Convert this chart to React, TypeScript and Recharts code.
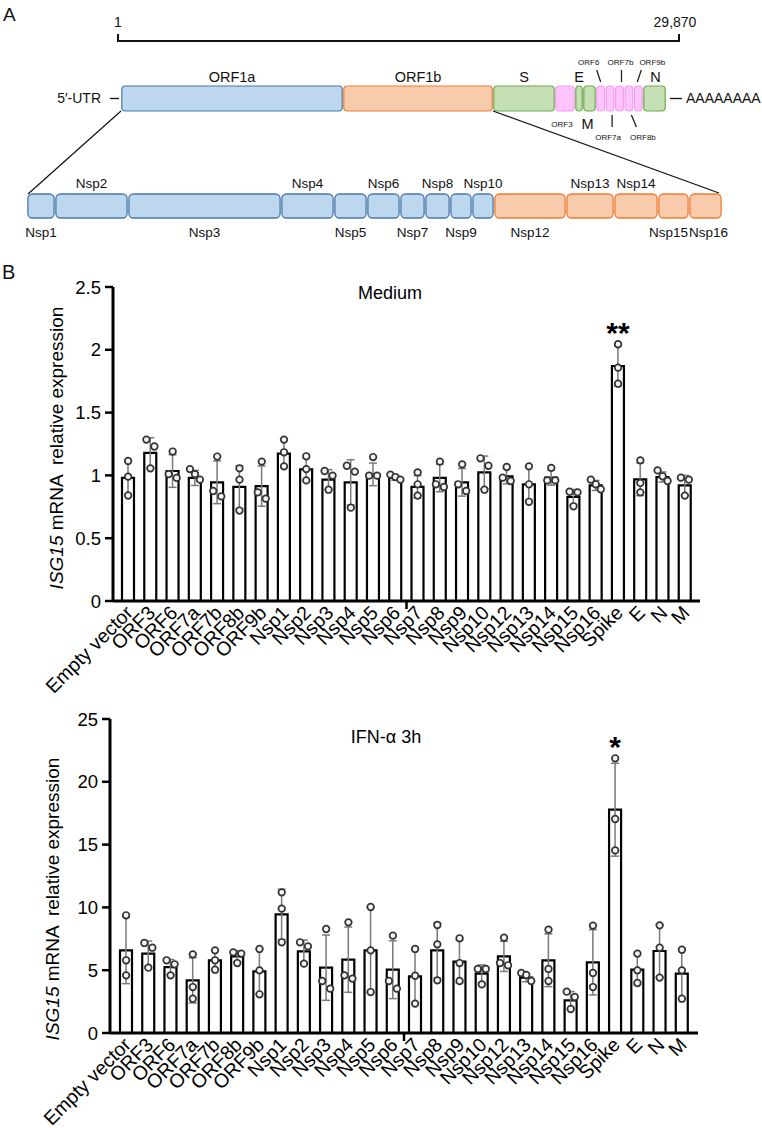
import React from "react";
import { BarChart, Bar, ComposedChart, XAxis, YAxis, Scatter, ErrorBar, LabelList } from "recharts";

const FONT = "'Liberation Sans', Arial, Helvetica, sans-serif";

// ---- panel A: genome map (segment widths as drawn, not in nt) ----
const genomeNames = ["ORF1a", "ORF1b", "S", "ORF3", "E", "M", "ORF6", "ORF7a", "ORF7b", "ORF8b", "ORF9b", "N"];
const genomeSizes = [222, 150, 62, 20, 8, 13, 9.4, 9.4, 9.4, 9.4, 9.4, 23];
const genomeKinds = ["pp1a", "pp1b", "structural", "accessory", "structural", "structural", "accessory", "accessory", "accessory", "accessory", "accessory", "structural"];

const nspNames = ["Nsp1", "Nsp2", "Nsp3", "Nsp4", "Nsp5", "Nsp6", "Nsp7", "Nsp8", "Nsp9", "Nsp10", "Nsp12", "Nsp13", "Nsp14", "Nsp15", "Nsp16"];
const nspSizes = [28, 73, 153, 53, 33, 33, 25, 25, 22, 22, 72, 48, 44, 31, 33];
const nspKinds = ["pp1a", "pp1a", "pp1a", "pp1a", "pp1a", "pp1a", "pp1a", "pp1a", "pp1a", "pp1a", "pp1b", "pp1b", "pp1b", "pp1b", "pp1b"];
const nspTopLabels = ["Nsp2", "Nsp4", "Nsp6", "Nsp8", "Nsp10", "Nsp13", "Nsp14"];

// ---- panel B: ISG15 qPCR ----
const categories = ["Empty vector", "ORF3", "ORF6", "ORF7a", "ORF7b", "ORF8b", "ORF9b", "Nsp1", "Nsp2", "Nsp3", "Nsp4", "Nsp5", "Nsp6", "Nsp7", "Nsp8", "Nsp9", "Nsp10", "Nsp12", "Nsp13", "Nsp14", "Nsp15", "Nsp16", "Spike", "E", "N", "M"];

const mediumMean = [0.98, 1.18, 1.035, 0.98, 0.945, 0.908, 0.915, 1.173, 1.048, 0.966, 0.945, 1.008, 0.982, 0.908, 0.98, 0.945, 1.024, 0.993, 0.929, 0.982, 0.828, 0.92, 1.871, 0.969, 0.987, 0.92];
const mediumSd = [0.14, 0.12, 0.13, 0.06, 0.17, 0.17, 0.16, 0.11, 0.09, 0.08, 0.18, 0.09, 0.02, 0.09, 0.11, 0.11, 0.13, 0.06, 0.14, 0.06, 0.06, 0.04, 0.16, 0.13, 0.04, 0.08];
const mediumRep1 = [1.115, 1.285, 1.19, 1.05, 1.15, 1.056, 1.11, 1.285, 1.152, 1.035, 1.077, 1.146, 1.006, 1.024, 1.11, 1.088, 1.136, 1.067, 1.072, 1.06, 0.87, 0.966, 2.044, 1.12, 1.04, 0.982];
const mediumRep2 = [0.99, 1.23, 1.01, 1.01, 0.876, 0.966, 0.865, 1.184, 1.05, 0.998, 1.03, 0.998, 0.987, 0.929, 0.929, 0.929, 1.077, 0.982, 0.929, 0.96, 0.865, 0.929, 1.858, 0.94, 0.993, 0.966];
const mediumRep3 = [0.84, 1.056, 0.98, 0.966, 0.833, 0.72, 0.815, 1.072, 0.96, 0.886, 0.743, 0.998, 0.966, 0.839, 0.908, 0.876, 0.886, 0.955, 0.79, 0.96, 0.754, 0.89, 1.73, 0.865, 0.955, 0.839];
const mediumSig = ["", "", "", "", "", "", "", "", "", "", "", "", "", "", "", "", "", "", "", "", "", "", "**", "", "", ""];
const mediumTicks = [0, 0.5, 1, 1.5, 2, 2.5];

const ifnMean = [6.58, 6.32, 5.25, 4.19, 5.79, 6.1, 4.91, 9.45, 6.5, 5.2, 5.84, 6.58, 5.04, 4.51, 6.58, 5.68, 4.72, 6.1, 4.41, 5.79, 2.6, 5.63, 17.78, 5.04, 6.53, 4.72];
const ifnSd = [2.65, 1.0, 0.6, 1.8, 0.77, 0.45, 1.8, 2.0, 0.9, 2.6, 2.6, 3.4, 2.3, 2.2, 2.2, 1.7, 0.7, 1.2, 0.33, 2.1, 0.7, 2.6, 3.7, 1.2, 2.1, 2.0];
const ifnRep1 = [9.37, 7.17, 5.79, 6.26, 6.58, 6.42, 6.69, 11.2, 7.22, 8.28, 8.81, 10.03, 7.75, 6.69, 8.6, 7.54, 5.1, 7.59, 4.78, 8.23, 3.29, 8.55, 21.87, 6.32, 8.57, 6.63];
const ifnRep2 = [5.79, 6.79, 5.47, 3.66, 5.79, 6.32, 4.99, 9.9, 6.9, 4.14, 4.59, 6.58, 4.14, 4.56, 7.06, 5.57, 5.1, 5.57, 4.62, 5.1, 2.87, 4.78, 17.04, 4.99, 6.79, 4.99];
const ifnRep3 = [4.59, 5.2, 4.59, 2.73, 5.04, 5.57, 3.08, 7.22, 5.52, 3.53, 4.33, 3.26, 3.53, 2.34, 4.19, 4.14, 3.87, 5.39, 4.14, 4.14, 1.91, 3.66, 14.54, 3.98, 4.41, 2.73];
const ifnSig = ["", "", "", "", "", "", "", "", "", "", "", "", "", "", "", "", "", "", "", "", "", "", "*", "", "", ""];
const ifnTicks = [0, 5, 10, 15, 20, 25];

const palette: Record<string, { fill: string; stroke: string }> = {
  pp1a: { fill: "#bdd7ee", stroke: "#4a78aa" },
  pp1b: { fill: "#f8cbad", stroke: "#ed7d31" },
  structural: { fill: "#c5e0b4", stroke: "#6fa84a" },
  accessory: { fill: "#ffc4fb", stroke: "#f49cf0" },
};

type LabelStyle = { side: "top" | "bottom"; size: number; dx?: number; pointer?: [number, number] };

const genomeLabelStyle: Record<string, LabelStyle> = {
  ORF1a: { side: "top", size: 14.5 },
  ORF1b: { side: "top", size: 14.5 },
  S: { side: "top", size: 14.5 },
  E: { side: "top", size: 14.5 },
  N: { side: "top", size: 14.5, dx: 1 },
  ORF3: { side: "bottom", size: 8, dx: -3 },
  M: { side: "bottom", size: 14.5, dx: -2 },
  ORF6: { side: "top", size: 8, dx: -12, pointer: [-4, 0] },
  ORF7b: { side: "top", size: 8, dx: 1, pointer: [2, 2] },
  ORF9b: { side: "top", size: 8, dx: 14, pointer: [3, -1] },
  ORF7a: { side: "bottom", size: 8, dx: -2, pointer: [2, 2] },
  ORF8b: { side: "bottom", size: 8, dx: 14, pointer: [2.5, 7.5] },
};

const nspLabelDx: Record<string, number> = { Nsp15: -5, Nsp16: 3 };

const GENOME = { left: 121, top: 86, h: 25 };
const NSP = { left: 27, top: 194, h: 24 };

function genomeShape(name: string, kind: string) {
  return (p: any) => {
    const { x, y, width, height } = p;
    const c = palette[kind];
    const st = genomeLabelStyle[name];
    const cx = x + width / 2 + (st.dx ?? 0);
    const bcx = x + width / 2;
    let label: React.ReactNode = null;
    if (st.side === "top") {
      const by = st.size < 10 ? y - 21.5 : y - 4;
      label = (
        <g>
          {st.pointer && <line x1={bcx + st.pointer[0]} y1={y - 16} x2={bcx + st.pointer[1]} y2={y - 4} stroke="#222" strokeWidth={1.3} />}
          <text x={cx} y={by} textAnchor="middle" fontSize={st.size} fontFamily={FONT} fill="#111">{name}</text>
        </g>
      );
    } else {
      const by = st.pointer ? y + height + 28.5 : st.size < 10 ? y + height + 15.5 : y + height + 18;
      label = (
        <g>
          {st.pointer && <line x1={bcx + st.pointer[0]} y1={y + height + 4} x2={bcx + st.pointer[1]} y2={y + height + 16} stroke="#222" strokeWidth={1.3} />}
          <text x={cx} y={by} textAnchor="middle" fontSize={st.size} fontFamily={FONT} fill="#111">{name}</text>
        </g>
      );
    }
    return (
      <g>
        <rect x={x + 0.8} y={y} width={Math.max(width - 1.6, 0)} height={height} rx={3.5} fill={c.fill} stroke={c.stroke} strokeWidth={1.2} />
        {label}
      </g>
    );
  };
}

function nspShape(name: string, kind: string) {
  return (p: any) => {
    const { x, y, width, height } = p;
    const c = palette[kind];
    const top = nspTopLabels.includes(name);
    return (
      <g>
        <rect x={x + 0.9} y={y} width={Math.max(width - 1.8, 0)} height={height} rx={4.5} fill={c.fill} stroke={c.stroke} strokeWidth={1.3} />
        <text x={x + width / 2 + (nspLabelDx[name] ?? 0)} y={top ? y - 6 : y + height + 19} textAnchor="middle" fontSize={13.5} fontFamily={FONT} fill="#111">{name}</text>
      </g>
    );
  };
}

function SegmentRow({ names, sizes, kinds, left, top, h, shape }: any) {
  const row: Record<string, any> = { row: "r" };
  names.forEach((n: string, i: number) => (row[`s${i}`] = sizes[i]));
  const total = sizes.reduce((a: number, b: number) => a + b, 0);
  const mTop = 50;
  const mBottom = 45;
  return (
    <div style={{ position: "absolute", left: 0, top: top - mTop }}>
      <BarChart width={762} height={h + mTop + mBottom} data={[row]} layout="vertical" barCategoryGap={0} margin={{ top: mTop, bottom: mBottom, left, right: 762 - left - total }}>
        <XAxis type="number" domain={[0, total]} hide />
        <YAxis type="category" dataKey="row" hide />
        {names.map((n: string, i: number) => (
          <Bar key={n} dataKey={`s${i}`} stackId="g" isAnimationActive={false} shape={shape(n, kinds[i])} />
        ))}
      </BarChart>
    </div>
  );
}

const Y_AXIS_W = 60;
const X_AXIS_H = 90;

function jitter(vals: number[], k: number, ppu: number) {
  const order = vals.map((_, i) => i).sort((a, b) => vals[b] - vals[a]);
  const clusters: number[][] = [];
  order.forEach((i) => {
    const last = clusters[clusters.length - 1];
    if (last && Math.abs(vals[last[last.length - 1]] - vals[i]) * ppu < 8) last.push(i);
    else clusters.push([i]);
  });
  const c = clusters.find((cl) => cl.includes(k))!;
  const pos = c.indexOf(k);
  return (pos - (c.length - 1) / 2) * (c.length === 2 ? 8 : 5);
}

function ExpressionChart({ mean, sd, rep1, rep2, rep3, sig, yMax, ticks, top, height, margin, pad }: any) {
  const data = categories.map((name, i) => ({ name, mean: mean[i], sd: sd[i], r1: rep1[i], r2: rep2[i], r3: rep3[i], sig: sig[i] }));
  const plotH = height - margin.top - margin.bottom - X_AXIS_H;
  const ppu = plotH / yMax;
  const plotW = 762 - margin.left - Y_AXIS_W - margin.right;
  const band = (plotW - pad * 2) / categories.length;

  const renderTick = (p: any) => {
    const { x, y, payload } = p;
    const tx = x + 6;
    const ty = y + 13;
    return (
      <g>
        {payload.value === "Nsp7" && <line x1={x - band / 2} x2={x - band / 2} y1={y} y2={y + 8} stroke="#000" strokeWidth={2.5} />}
        <text x={tx} y={ty} transform={`rotate(-45 ${tx} ${ty})`} textAnchor="end" fontSize={19.5} fontFamily={FONT} fill="#000">
          {payload.value}
        </text>
      </g>
    );
  };

  const dot = (key: number) => (p: any) => {
    const d = p.payload;
    const off = jitter([d.r1, d.r2, d.r3], key, ppu);
    return <circle cx={p.cx + off} cy={p.cy} r={3.3} fill="#f4f4f4" stroke="#333" strokeWidth={1.7} />;
  };

  return (
    <div style={{ position: "absolute", left: 0, top }}>
      <ComposedChart width={762} height={height} data={data} margin={margin}>
        <XAxis dataKey="name" type="category" interval={0} tickLine={false} tickSize={0} tickMargin={0} height={X_AXIS_H} padding={{ left: pad, right: pad }} axisLine={{ stroke: "#000", strokeWidth: 3 }} tick={renderTick} />
        <YAxis type="number" domain={[0, yMax]} ticks={ticks} width={Y_AXIS_W} tickSize={8} tickMargin={4} axisLine={{ stroke: "#000", strokeWidth: 3 }} tickLine={{ stroke: "#000", strokeWidth: 2.5 }} tick={{ fontSize: 18.5, fill: "#000", fontFamily: FONT }} />
        <Bar dataKey="mean" barSize={12} fill="#fff" stroke="#000" strokeWidth={2.2} isAnimationActive={false}>
          <ErrorBar dataKey="sd" width={4} stroke="#7a7a7a" strokeWidth={1.5} direction="y" />
          <LabelList
            dataKey="sig"
            content={(p: any) => {
              if (!p.value) return null;
              const vb = p.viewBox ?? p;
              const d = data[p.index];
              const maxRep = Math.max(d.r1, d.r2, d.r3);
              const yDot = vb.y - (maxRep - d.mean) * ppu;
              return (
                <text x={vb.x + vb.width / 2} y={yDot - 1} textAnchor="middle" fontSize={30} fontWeight="bold" fontFamily={FONT} fill="#000">
                  {p.value}
                </text>
              );
            }}
          />
        </Bar>
        {["r1", "r2", "r3"].map((k, j) => (
          <Scatter key={k} dataKey={k} isAnimationActive={false} shape={dot(j)} />
        ))}
      </ComposedChart>
    </div>
  );
}

function YLabel({ x, cy }: { x: number; cy: number }) {
  return (
    <text x={x} y={cy} transform={`rotate(-90 ${x} ${cy})`} textAnchor="middle" fontSize={19} fontFamily={FONT} fill="#000">
      <tspan fontStyle="italic">ISG15</tspan>
      <tspan> mRNA</tspan>
      <tspan dx={5}> relative expression</tspan>
    </text>
  );
}

export default function App() {
  const gRight = GENOME.left + genomeSizes[0] + genomeSizes[1];
  const nspRight = NSP.left + nspSizes.reduce((a, b) => a + b, 0);
  return (
    <div style={{ position: "absolute", left: 0, top: 0, width: 762, height: 1128, background: "#fff", fontFamily: FONT }}>
      <SegmentRow names={genomeNames} sizes={genomeSizes} kinds={genomeKinds} left={GENOME.left} top={GENOME.top} h={GENOME.h} shape={genomeShape} />
      <SegmentRow names={nspNames} sizes={nspSizes} kinds={nspKinds} left={NSP.left} top={NSP.top} h={NSP.h} shape={nspShape} />

      <ExpressionChart mean={mediumMean} sd={mediumSd} rep1={mediumRep1} rep2={mediumRep2} rep3={mediumRep3} sig={mediumSig} yMax={2.5} ticks={mediumTicks} top={270} height={440} margin={{ top: 17, left: 53, right: 62, bottom: 19 }} pad={4} />
      <ExpressionChart mean={ifnMean} sd={ifnSd} rep1={ifnRep1} rep2={ifnRep2} rep3={ifnRep3} sig={ifnSig} yMax={25} ticks={ifnTicks} top={700} height={428} margin={{ top: 19, left: 50, right: 64, bottom: 5 }} pad={5} />

      <svg width={762} height={1128} style={{ position: "absolute", left: 0, top: 0, pointerEvents: "none" }}>
        <text x={3} y={21} fontSize={19} fontFamily={FONT} fill="#111">A</text>
        <text x={2} y={279} fontSize={20} fontFamily={FONT} fill="#111">B</text>

        <text x={118} y={27} textAnchor="middle" fontSize={14} fontFamily={FONT} fill="#111">1</text>
        <text x={675} y={27} textAnchor="middle" fontSize={14} fontFamily={FONT} fill="#111">29,870</text>
        <path d="M118,34 L118,41 L679,41 L679,34" fill="none" stroke="#111" strokeWidth={2} />

        <text x={101} y={103} textAnchor="end" fontSize={14} fontFamily={FONT} fill="#111">5′-UTR</text>
        <line x1={110} x2={119} y1={98.5} y2={98.5} stroke="#111" strokeWidth={1.3} />
        <line x1={670} x2={682} y1={98.5} y2={98.5} stroke="#111" strokeWidth={1.3} />
        <text x={686} y={103} fontSize={14} fontFamily={FONT} fill="#111">AAAAAAAA</text>

        <line x1={GENOME.left} y1={GENOME.top + GENOME.h} x2={NSP.left + 1} y2={NSP.top} stroke="#111" strokeWidth={1.2} />
        <line x1={gRight} y1={GENOME.top + GENOME.h} x2={nspRight - 3} y2={NSP.top - 1} stroke="#111" strokeWidth={1.2} />

        <text x={390} y={299} textAnchor="middle" fontSize={18} fontFamily={FONT} fill="#000">Medium</text>
        <text x={386} y={743} textAnchor="middle" fontSize={18} fontFamily={FONT} fill="#000">IFN-α 3h</text>

        <YLabel x={63} cy={448} />
        <YLabel x={59} cy={899} />
      </svg>
    </div>
  );
}
